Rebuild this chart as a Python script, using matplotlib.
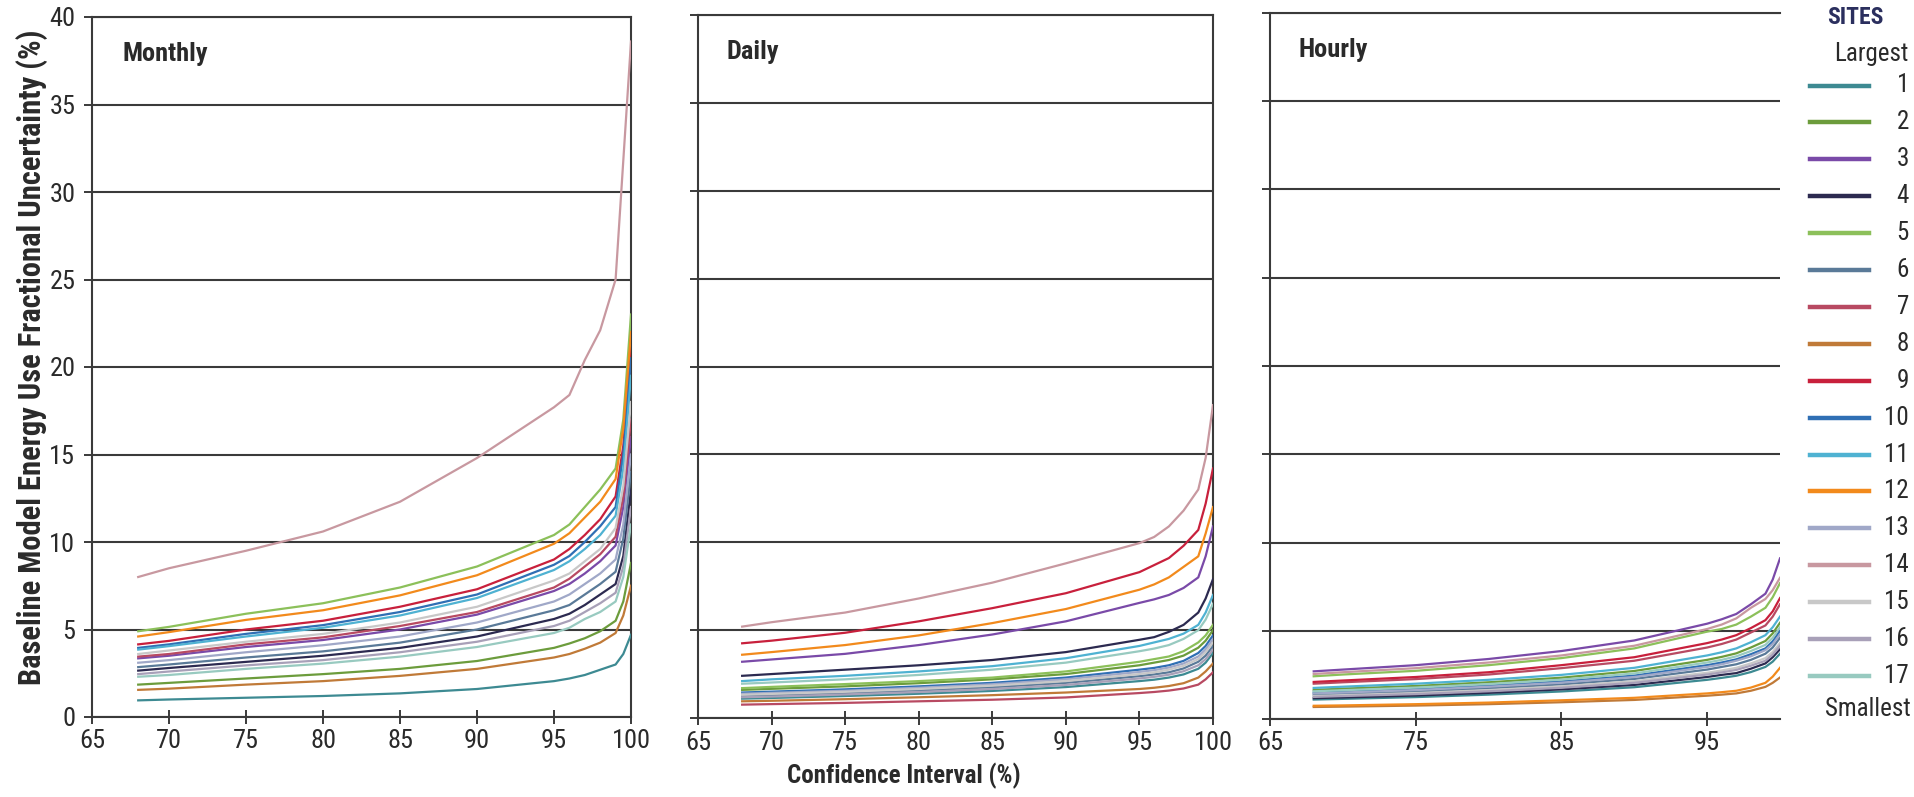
import matplotlib
matplotlib.use("Agg")
import matplotlib.pyplot as plt
from matplotlib import font_manager as fm
from matplotlib.lines import Line2D

# ---------------- data ----------------
CI = [68, 70, 75, 80, 85, 90, 95, 96, 97, 98, 99, 99.5, 100]

SITE_LABELS = [str(i) for i in range(1, 18)]
SITE_COLORS = ["#3d8a92", "#6c9c3c", "#7a4aa8", "#2c2a50", "#8cc05a",
               "#5a7a98", "#b84a62", "#c07a38", "#c8203c", "#2f6fb4",
               "#4fb2d2", "#f28a1c", "#a0a8c8", "#c898a0", "#c8c8c8",
               "#a8a0b8", "#98cac0"]

monthly = [
    [0.95, 1.0, 1.1, 1.2, 1.35, 1.6, 2.05, 2.2, 2.4, 2.7, 3.0, 3.6, 4.7],
    [1.85, 1.95, 2.2, 2.45, 2.75, 3.2, 3.95, 4.2, 4.5, 4.9, 5.5, 6.6, 8.8],
    [3.35, 3.5, 4.0, 4.4, 5.0, 5.85, 7.2, 7.6, 8.2, 8.9, 9.8, 12.0, 16.0],
    [2.65, 2.8, 3.15, 3.5, 3.95, 4.6, 5.6, 5.9, 6.4, 7.0, 7.6, 9.2, 13.0],
    [4.9, 5.15, 5.9, 6.5, 7.4, 8.6, 10.4, 11.0, 12.0, 13.0, 14.2, 17.0, 23.0],
    [2.85, 3.0, 3.4, 3.75, 4.25, 5.0, 6.1, 6.4, 7.0, 7.6, 8.3, 10.2, 14.0],
    [3.45, 3.6, 4.15, 4.55, 5.2, 6.0, 7.4, 7.9, 8.6, 9.3, 10.3, 12.6, 17.0],
    [1.55, 1.62, 1.85, 2.05, 2.35, 2.75, 3.4, 3.6, 3.9, 4.25, 4.8, 5.8, 7.5],
    [4.15, 4.35, 5.0, 5.5, 6.3, 7.3, 9.0, 9.6, 10.4, 11.3, 12.6, 15.5, 21.5],
    [3.95, 4.15, 4.75, 5.25, 6.0, 7.0, 8.7, 9.2, 10.0, 10.9, 12.0, 15.0, 20.5],
    [3.85, 4.05, 4.6, 5.1, 5.8, 6.8, 8.4, 8.9, 9.6, 10.4, 11.5, 14.2, 19.5],
    [4.6, 4.85, 5.55, 6.1, 6.95, 8.1, 9.9, 10.5, 11.4, 12.3, 13.6, 16.5, 22.0],
    [3.1, 3.25, 3.7, 4.1, 4.6, 5.4, 6.6, 7.0, 7.6, 8.2, 9.0, 11.0, 15.0],
    [8.0, 8.5, 9.5, 10.6, 12.3, 14.8, 17.7, 18.4, 20.4, 22.1, 25.0, 31.8, 38.6],
    [3.6, 3.8, 4.3, 4.75, 5.4, 6.3, 7.8, 8.2, 8.9, 9.6, 10.8, 13.2, 18.0],
    [2.45, 2.6, 2.95, 3.25, 3.7, 4.3, 5.2, 5.5, 6.0, 6.5, 7.1, 8.6, 12.0],
    [2.3, 2.4, 2.75, 3.05, 3.45, 4.0, 4.8, 5.1, 5.6, 6.0, 6.6, 8.0, 11.0],
]

daily = [
    [1.1, 1.14, 1.25, 1.38, 1.54, 1.76, 2.1, 2.18, 2.3, 2.48, 2.8, 3.15, 3.7],
    [1.6, 1.66, 1.8, 1.98, 2.2, 2.5, 3.0, 3.15, 3.3, 3.55, 4.0, 4.4, 5.0],
    [3.2, 3.33, 3.65, 4.15, 4.75, 5.5, 6.55, 6.75, 7.0, 7.4, 8.0, 9.2, 10.9],
    [2.4, 2.5, 2.75, 3.0, 3.3, 3.75, 4.45, 4.6, 4.9, 5.3, 6.0, 6.8, 7.9],
    [1.7, 1.77, 1.93, 2.1, 2.3, 2.65, 3.2, 3.35, 3.5, 3.8, 4.3, 4.7, 5.3],
    [1.25, 1.3, 1.42, 1.57, 1.75, 2.0, 2.38, 2.48, 2.6, 2.82, 3.2, 3.55, 4.1],
    [0.76, 0.79, 0.86, 0.95, 1.04, 1.17, 1.42, 1.48, 1.56, 1.68, 1.9, 2.2, 2.6],
    [0.95, 0.98, 1.07, 1.18, 1.3, 1.45, 1.65, 1.72, 1.82, 1.98, 2.3, 2.65, 3.1],
    [4.25, 4.4, 4.85, 5.5, 6.25, 7.1, 8.3, 8.7, 9.1, 9.8, 10.7, 12.2, 14.2],
    [1.45, 1.5, 1.63, 1.8, 2.0, 2.3, 2.75, 2.85, 3.0, 3.25, 3.7, 4.1, 4.7],
    [2.1, 2.2, 2.4, 2.65, 2.95, 3.4, 4.1, 4.3, 4.5, 4.8, 5.3, 6.0, 7.0],
    [3.6, 3.75, 4.15, 4.7, 5.4, 6.2, 7.3, 7.6, 8.0, 8.6, 9.2, 10.5, 12.0],
    [1.38, 1.43, 1.55, 1.72, 1.92, 2.2, 2.62, 2.72, 2.87, 3.1, 3.5, 3.9, 4.5],
    [5.2, 5.45, 6.0, 6.8, 7.7, 8.8, 9.95, 10.3, 10.9, 11.8, 13.0, 14.8, 17.8],
    [1.32, 1.37, 1.49, 1.65, 1.84, 2.1, 2.5, 2.6, 2.75, 2.97, 3.35, 3.75, 4.3],
    [1.18, 1.22, 1.34, 1.48, 1.65, 1.88, 2.25, 2.34, 2.46, 2.66, 3.0, 3.35, 3.9],
    [1.95, 2.02, 2.2, 2.45, 2.75, 3.15, 3.8, 3.95, 4.15, 4.5, 5.0, 5.6, 6.5],
]

hourly = [
    [1.1, 1.14, 1.24, 1.38, 1.56, 1.8, 2.22, 2.33, 2.45, 2.66, 2.95, 3.25, 3.7],
    [1.65, 1.72, 1.87, 2.08, 2.34, 2.72, 3.35, 3.52, 3.72, 4.05, 4.42, 4.85, 5.45],
    [2.7, 2.8, 3.05, 3.4, 3.85, 4.45, 5.4, 5.65, 5.95, 6.5, 7.1, 7.9, 9.1],
    [1.18, 1.22, 1.33, 1.48, 1.68, 1.93, 2.38, 2.5, 2.6, 2.85, 3.15, 3.5, 3.95],
    [2.42, 2.52, 2.73, 3.05, 3.45, 4.0, 4.95, 5.1, 5.35, 5.8, 6.3, 6.9, 7.7],
    [1.38, 1.43, 1.56, 1.74, 1.96, 2.27, 2.8, 2.95, 3.1, 3.35, 3.7, 4.05, 4.6],
    [2.0, 2.08, 2.26, 2.52, 2.88, 3.3, 4.05, 4.25, 4.5, 4.9, 5.3, 5.8, 6.5],
    [0.68, 0.7, 0.76, 0.84, 0.95, 1.08, 1.32, 1.38, 1.45, 1.6, 1.82, 2.05, 2.35],
    [2.1, 2.18, 2.38, 2.65, 3.05, 3.5, 4.3, 4.5, 4.75, 5.15, 5.6, 6.1, 6.85],
    [1.5, 1.56, 1.7, 1.89, 2.13, 2.46, 3.05, 3.2, 3.38, 3.67, 4.0, 4.4, 5.0],
    [1.76, 1.83, 2.0, 2.22, 2.5, 2.9, 3.6, 3.78, 4.0, 4.35, 4.75, 5.2, 5.8],
    [0.75, 0.77, 0.84, 0.93, 1.06, 1.2, 1.45, 1.52, 1.6, 1.78, 2.05, 2.4, 2.9],
    [1.45, 1.5, 1.64, 1.83, 2.06, 2.38, 2.95, 3.1, 3.3, 3.55, 3.9, 4.25, 4.8],
    [2.55, 2.65, 2.88, 3.2, 3.6, 4.15, 5.1, 5.35, 5.7, 6.3, 6.8, 7.3, 8.0],
    [1.3, 1.35, 1.47, 1.64, 1.85, 2.14, 2.62, 2.75, 2.9, 3.15, 3.45, 3.8, 4.3],
    [1.25, 1.3, 1.41, 1.57, 1.77, 2.05, 2.52, 2.64, 2.78, 3.02, 3.3, 3.65, 4.15],
    [1.57, 1.63, 1.78, 1.98, 2.23, 2.58, 3.2, 3.35, 3.55, 3.85, 4.2, 4.6, 5.2],
]

PANEL_TITLES = ["Monthly", "Daily", "Hourly"]
X_TICKS_FULL = [65, 70, 75, 80, 85, 90, 95, 100]
X_TICKS_HOURLY = [65, 75, 85, 95]
Y_TICKS = [0, 5, 10, 15, 20, 25, 30, 35, 40]
Y_LABEL = "Baseline Model Energy Use Fractional Uncertainty (%)"
X_LABEL = "Confidence Interval (%)"

# ---------------- fonts ----------------
avail = {f.name for f in fm.fontManager.ttflist}
FONT = "DejaVu Sans"
for cand in ["Liberation Sans Narrow", "Roboto Condensed", "Open Sans Condensed",
             "DejaVu Sans Condensed", "Liberation Sans"]:
    if cand in avail:
        FONT = cand
        break
plt.rcParams["font.family"] = [FONT, "DejaVu Sans"]
plt.rcParams["font.stretch"] = "condensed"

# ---------------- figure ----------------
W, H = 1915, 797
fig = plt.figure(figsize=(W / 100, H / 100), dpi=100)
fig.patch.set_facecolor("white")

DARK = "#3a3a3a"
TXT = "#2a2a2a"

boxes = [(92, 17, 631, 717), (698, 15, 1213, 718), (1270, 13, 1780, 719)]
datasets = [monthly, daily, hourly]
xticks_list = [X_TICKS_FULL, X_TICKS_FULL, X_TICKS_HOURLY]

first_lines = None
for k, ((l, t, r, b), data, title, xt) in enumerate(zip(boxes, datasets, PANEL_TITLES, xticks_list)):
    ax = fig.add_axes([l / W, 1 - b / H, (r - l) / W, (b - t) / H])
    ax.set_facecolor("white")
    lines = []
    for vals, col in zip(data, SITE_COLORS):
        ln, = ax.plot(CI, vals, color=col, lw=1.6, solid_joinstyle="round", zorder=3)
        lines.append(ln)
    if first_lines is None:
        first_lines = lines
    ax.set_xlim(65, 100)
    ax.set_ylim(0, 40)
    ax.set_xticks(xt)
    ax.set_yticks(Y_TICKS)
    ax.yaxis.grid(True, color=DARK, lw=1.5, zorder=1)
    ax.xaxis.grid(False)
    ax.set_axisbelow(True)
    for side in ["left", "bottom", "top"]:
        ax.spines[side].set_color(DARK)
        ax.spines[side].set_linewidth(1.5)
    ax.spines["right"].set_visible(k < 2)
    ax.spines["right"].set_color(DARK)
    ax.spines["right"].set_linewidth(1.5)
    ax.tick_params(axis="x", direction="inout", length=10, width=1.4, color=DARK,
                   labelsize=19, labelcolor=TXT, pad=4)
    ax.tick_params(axis="y", direction="out", length=6, width=1.4, color=DARK,
                   labelsize=19, labelcolor=TXT, pad=6, labelleft=(k == 0))
    ax.text(0.056, 0.965, title, transform=ax.transAxes, ha="left", va="top",
            fontsize=19, fontweight="bold", color=TXT)

# axis labels
fig.text(32 / W, 1 - 357 / H, Y_LABEL, rotation=90, ha="center", va="center",
         fontsize=22, fontweight="bold", color=TXT)
fig.text(904 / W, 1 - 776 / H, X_LABEL, ha="center", va="center",
         fontsize=18, fontweight="bold", color=TXT)

# legend (manual, right side)
fig.text(1855 / W, 1 - 17 / H, "SITES", ha="center", va="center", fontsize=17,
         fontweight="bold", color="#2b2f5e")
fig.text(1909 / W, 1 - 54 / H, "Largest", ha="right", va="center", fontsize=18, color=TXT)
for i, (lab, ln) in enumerate(zip(SITE_LABELS, first_lines)):
    yy = 1 - (85.5 + i * 36.9) / H
    fig.add_artist(Line2D([1810 / W, 1869 / W], [yy, yy], transform=fig.transFigure,
                          color=ln.get_color(), lw=3.2))
    fig.text(1909 / W, yy, lab, ha="right", va="center", fontsize=18, color=TXT)
fig.text(1911 / W, 1 - 709 / H, "Smallest", ha="right", va="center", fontsize=18, color=TXT)

fig.savefig("out.png", dpi=100, facecolor="white")
